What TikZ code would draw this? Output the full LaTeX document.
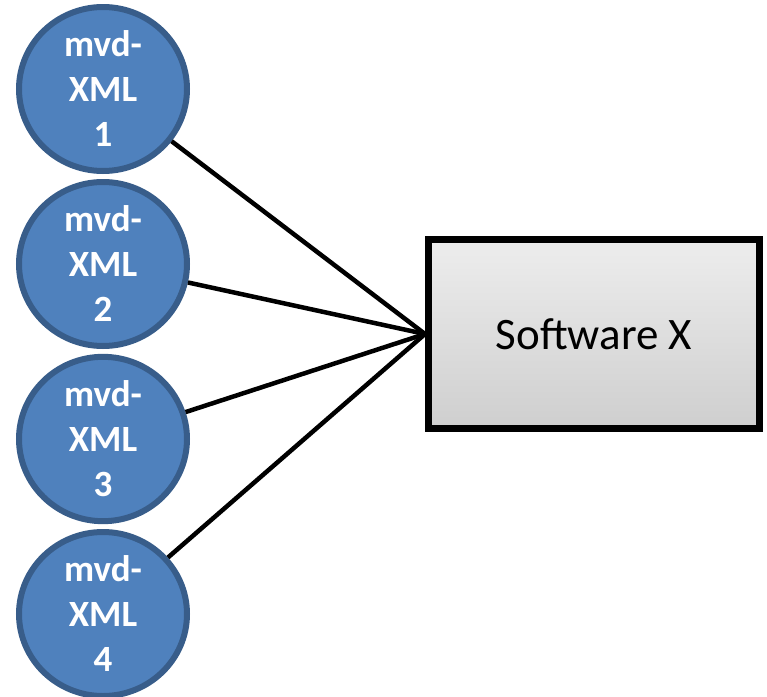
\documentclass[tikz,border=0pt]{standalone}
\usepackage{fontspec}
\setmainfont{Carlito}
\usetikzlibrary{shapes.geometric, shadows, calc}
\definecolor{mvdfill}{RGB}{79, 129, 189}
\definecolor{mvdline}{RGB}{56, 93, 138}

\tikzset{
    mvd/.style={ellipse, fill=mvdfill, draw=mvdline, line width=6,
        minimum width=168, minimum height=156, inner sep=0,
        text=white, align=center, font=\bfseries\fontsize{37}{45}\selectfont},
    software/.style={rectangle, draw=black, line width=7,
        top color=gray!14, bottom color=gray!38,
        minimum width=331, minimum height=189,
        drop shadow={shadow xshift=2pt, shadow yshift=-2pt, opacity=0.35},
        font=\fontsize{45}{54}\selectfont},
    link/.style={draw=black, line width=4.5}
}

\begin{document}
\begin{tikzpicture}[x=1pt, y=-1pt]

        \useasboundingbox (0, 0) rectangle (767, 696);

        % Software box
        \node[software] (sw) at (594, 334) {Software X};

        % mvd-XML files
        \node[mvd] (mvd1) at (103, 89) {mvd-\\XML\\1};
        \node[mvd] (mvd2) at (103, 264) {mvd-\\XML\\2};
        \node[mvd] (mvd3) at (103, 439) {mvd-\\XML\\3};
        \node[mvd] (mvd4) at (103, 614) {mvd-\\XML\\4};

        % Connections
        \draw[link] (mvd1) -- (sw.west);
        \draw[link] (mvd2) -- (sw.west);
        \draw[link] (mvd3) -- (sw.west);
        \draw[link] (mvd4) -- (sw.west);

\end{tikzpicture}
\end{document}
